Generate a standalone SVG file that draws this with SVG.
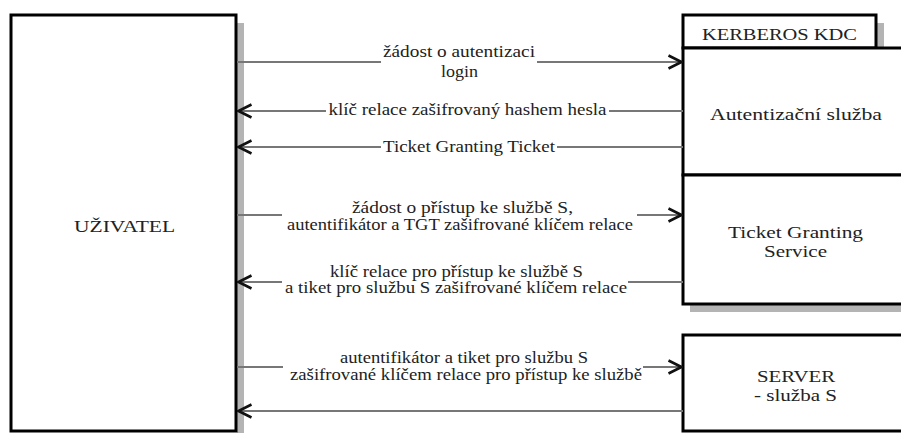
<svg xmlns="http://www.w3.org/2000/svg" width="901" height="433" viewBox="0 0 901 433" font-family="Liberation Serif, Times New Roman, serif">
  <defs>
    <marker id="chev" viewBox="0 0 16 16" refX="15" refY="8" markerWidth="16" markerHeight="16" markerUnits="userSpaceOnUse" orient="auto-start-reverse">
      <path d="M1.5,1.5 L14.5,8 L1.5,14.5" fill="none" stroke="#111" stroke-width="2.6"/>
    </marker>
    <style>
      .box { fill: #fff; stroke: #000; stroke-width: 3; }
      .shadow { fill: #b4b4b4; }
      .conn { stroke: #777; stroke-width: 2.2; fill: none; }
      .lbl { font-size: 16px; fill: #222; text-anchor: middle; }
    </style>
  </defs>
  <rect width="901" height="433" fill="#fff"/>

  <!-- user -->
  <g id="uzivatel">
    <rect class="shadow" x="237" y="23" width="7" height="410"/>
    <rect class="box" x="11" y="15" width="225" height="416"/>
    <text class="lbl" x="124.5" y="232" textLength="101" lengthAdjust="spacingAndGlyphs">UŽIVATEL</text>
  </g>

  <!-- KDC -->
  <g id="kdc">
    <rect class="shadow" x="877" y="23" width="7" height="26"/>
    <rect class="box" x="683" y="15" width="193" height="33"/>
    <text class="lbl" x="779.5" y="40" textLength="155" lengthAdjust="spacingAndGlyphs">KERBEROS KDC</text>
  </g>
  <g id="as">
    <rect class="box" x="683" y="48" width="230" height="127"/>
    <text class="lbl" x="796" y="120" textLength="172" lengthAdjust="spacingAndGlyphs">Autentizační služba</text>
  </g>
  <g id="tgs">
    <rect class="shadow" x="690" y="305" width="220" height="7"/>
    <rect class="box" x="683" y="175" width="230" height="129"/>
    <text class="lbl" x="795.5" y="238" textLength="135" lengthAdjust="spacingAndGlyphs">Ticket Granting</text>
    <text class="lbl" x="795.5" y="257" textLength="63" lengthAdjust="spacingAndGlyphs">Service</text>
  </g>
  <g id="server">
    <rect class="box" x="683" y="335" width="230" height="96"/>
    <text class="lbl" x="796" y="382" textLength="78" lengthAdjust="spacingAndGlyphs">SERVER</text>
    <text class="lbl" x="795.5" y="401" textLength="83" lengthAdjust="spacingAndGlyphs">- služba S</text>
  </g>

  <!-- connectors -->
  <g id="connectors">
    <line class="conn" x1="237" y1="62" x2="381" y2="62"/>
    <line class="conn" x1="537" y1="62" x2="682" y2="62" marker-end="url(#chev)"/>
    <line class="conn" x1="326" y1="111" x2="238" y2="111" marker-end="url(#chev)"/>
    <line class="conn" x1="609" y1="111" x2="683" y2="111"/>
    <line class="conn" x1="381" y1="147" x2="238" y2="147" marker-end="url(#chev)"/>
    <line class="conn" x1="557" y1="147" x2="683" y2="147"/>
    <line class="conn" x1="237" y1="215" x2="282" y2="215"/>
    <line class="conn" x1="637" y1="215" x2="682" y2="215" marker-end="url(#chev)"/>
    <line class="conn" x1="282" y1="282" x2="238" y2="282" marker-end="url(#chev)"/>
    <line class="conn" x1="628" y1="282" x2="683" y2="282"/>
    <line class="conn" x1="237" y1="367" x2="283" y2="367"/>
    <line class="conn" x1="643" y1="367" x2="682" y2="367" marker-end="url(#chev)"/>
    <line class="conn" x1="683" y1="411" x2="238" y2="411" marker-end="url(#chev)"/>

    <text class="lbl" x="459" y="57" textLength="152" lengthAdjust="spacingAndGlyphs">žádost o autentizaci</text>
    <text class="lbl" x="459.5" y="77" textLength="37" lengthAdjust="spacingAndGlyphs">login</text>
    <text class="lbl" x="467.5" y="115" textLength="278" lengthAdjust="spacingAndGlyphs">klíč relace zašifrovaný hashem hesla</text>
    <text class="lbl" x="469" y="152" textLength="172" lengthAdjust="spacingAndGlyphs">Ticket Granting Ticket</text>
    <text class="lbl" x="462.5" y="213" textLength="221" lengthAdjust="spacingAndGlyphs">žádost o přístup ke službě S,</text>
    <text class="lbl" x="460" y="230" textLength="346" lengthAdjust="spacingAndGlyphs">autentifikátor a TGT zašifrované klíčem relace</text>
    <text class="lbl" x="456.5" y="277" textLength="253" lengthAdjust="spacingAndGlyphs">klíč relace pro přístup ke službě S</text>
    <text class="lbl" x="456" y="293" textLength="342" lengthAdjust="spacingAndGlyphs">a tiket pro službu S zašifrované klíčem relace</text>
    <text class="lbl" x="464" y="363" textLength="248" lengthAdjust="spacingAndGlyphs">autentifikátor a tiket pro službu S</text>
    <text class="lbl" x="466" y="380" textLength="352" lengthAdjust="spacingAndGlyphs">zašifrované klíčem relace pro přístup ke službě</text>
  </g>
</svg>
